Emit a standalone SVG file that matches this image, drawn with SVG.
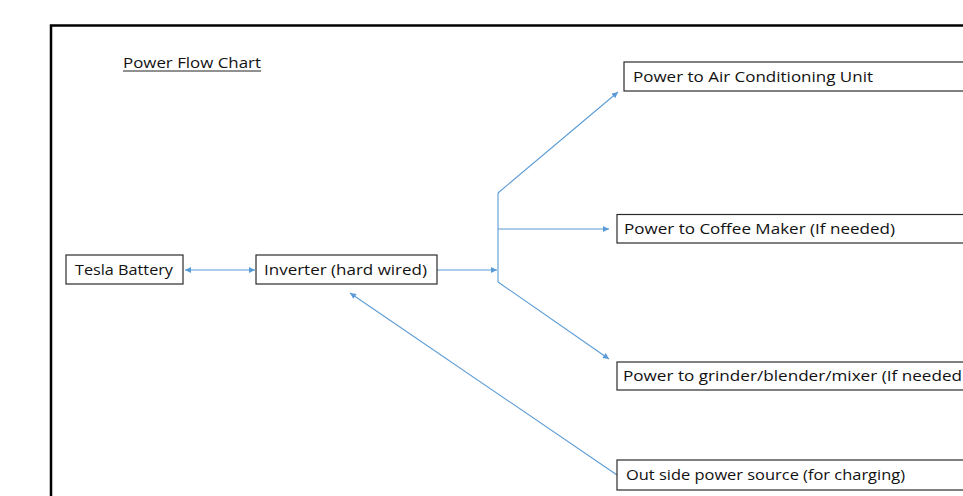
<svg xmlns="http://www.w3.org/2000/svg" width="963" height="496" viewBox="0 0 963 496">
<defs>
<marker id="ah" viewBox="0 0 10 10" refX="10" refY="5" markerWidth="7" markerHeight="6" markerUnits="userSpaceOnUse" orient="auto-start-reverse">
<path d="M0,0 L10,5 L0,10 z" fill="#5B9BD5"/>
</marker>
<style>
.box{fill:#fff;stroke:#2b2b2b;stroke-width:1.2}
.t{font-family:"Open Sans","Liberation Sans",Arial,sans-serif;font-size:14px;fill:#111}
.c{fill:none;stroke:#5B9BD5;stroke-width:1.1}
</style>
</defs>
<rect width="963" height="496" fill="#fff"/>
<path d="M51,496 V25.5 H963" fill="none" stroke="#000" stroke-width="2.5"/>
<g id="title">
<text class="t" x="123" y="68" textLength="138" lengthAdjust="spacingAndGlyphs">Power Flow Chart</text>
<line x1="123" y1="71" x2="261" y2="71" stroke="#222" stroke-width="1"/>
</g>
<g id="connectors">
<line class="c" x1="185" y1="270" x2="255" y2="270" marker-start="url(#ah)" marker-end="url(#ah)"/>
<line class="c" x1="437" y1="270" x2="497" y2="270" marker-end="url(#ah)"/>
<line class="c" x1="498" y1="193" x2="498" y2="282"/>
<line class="c" x1="498" y1="193" x2="618" y2="92" marker-end="url(#ah)"/>
<line class="c" x1="498" y1="229" x2="609" y2="229" marker-end="url(#ah)"/>
<line class="c" x1="498" y1="282" x2="609" y2="359" marker-end="url(#ah)"/>
<line class="c" x1="617" y1="475" x2="350" y2="293" marker-end="url(#ah)"/>
</g>
<g id="battery">
<rect class="box" x="66" y="255" width="117" height="29"/>
<text class="t" x="75" y="275" textLength="98" lengthAdjust="spacingAndGlyphs">Tesla Battery</text>
</g>
<g id="inverter">
<rect class="box" x="256" y="255" width="181" height="29"/>
<text class="t" x="264" y="275" textLength="163" lengthAdjust="spacingAndGlyphs">Inverter (hard wired)</text>
</g>
<g id="ac">
<rect class="box" x="624" y="62" width="345" height="29"/>
<text class="t" x="633" y="82" textLength="240" lengthAdjust="spacingAndGlyphs">Power to Air Conditioning Unit</text>
</g>
<g id="coffee">
<rect class="box" x="617" y="214.5" width="352" height="28.5"/>
<text class="t" x="624" y="234" textLength="271" lengthAdjust="spacingAndGlyphs">Power to Coffee Maker (If needed)</text>
</g>
<g id="grinder">
<rect class="box" x="617" y="362" width="352" height="28"/>
<text class="t" x="623" y="381" textLength="339" lengthAdjust="spacingAndGlyphs">Power to grinder/blender/mixer (If needed</text>
</g>
<g id="outside">
<rect class="box" x="617" y="460" width="352" height="30"/>
<text class="t" x="626" y="480" textLength="279" lengthAdjust="spacingAndGlyphs">Out side power source (for charging)</text>
</g>
</svg>
